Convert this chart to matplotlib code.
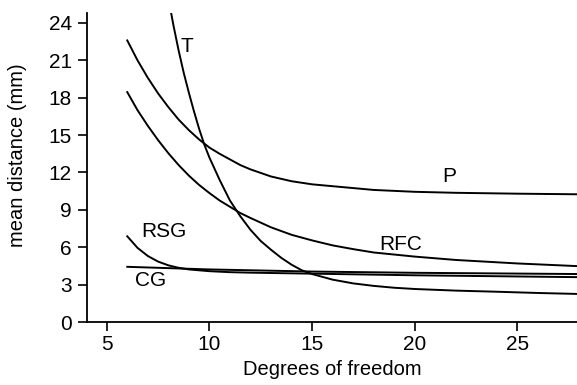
import numpy as np
import matplotlib
matplotlib.use("Agg")
import matplotlib.pyplot as plt

plt.rcParams["font.family"] = ["Liberation Sans", "DejaVu Sans"]
plt.rcParams["font.size"] = 14

# curves (x = degrees of freedom, y = mean distance in mm)
t_x = [8, 8.25, 8.5, 8.75, 9, 9.25, 9.5, 9.75, 10, 10.5, 11, 11.5, 12, 12.5, 13, 13.5, 14,
       14.5, 15, 16, 17, 18, 19, 20, 22, 24, 26, 28]
t_y = [26.0, 23.8, 21.8, 20.0, 18.4, 16.9, 15.5, 14.25, 13.2, 11.4, 9.75, 8.5, 7.4, 6.5, 5.8,
       5.15, 4.6, 4.15, 3.85, 3.4, 3.1, 2.9, 2.75, 2.65, 2.52, 2.43, 2.33, 2.25]

p_x = [6, 6.5, 7, 7.5, 8, 8.5, 9, 9.5, 10, 10.5, 11, 11.5, 12, 13, 14, 15, 16, 17, 18, 20, 22, 25, 28]
p_y = [22.6, 21.0, 19.6, 18.35, 17.25, 16.25, 15.4, 14.65, 14.0, 13.5, 13.05, 12.6, 12.25,
       11.68, 11.3, 11.05, 10.9, 10.75, 10.6, 10.45, 10.37, 10.3, 10.25]

rfc_x = [6, 6.5, 7, 7.5, 8, 8.5, 9, 9.5, 10, 10.5, 11, 11.5, 12, 13, 14, 15, 16, 17, 18, 20, 22, 25, 28]
rfc_y = [18.45, 17.0, 15.75, 14.6, 13.55, 12.6, 11.75, 11.0, 10.35, 9.75, 9.25, 8.75, 8.35,
         7.6, 7.0, 6.55, 6.15, 5.85, 5.58, 5.25, 4.98, 4.7, 4.48]

rsg_x = [6, 6.5, 7, 7.5, 8, 8.5, 9, 10, 11, 12, 15, 20, 28]
rsg_y = [6.88, 5.95, 5.3, 4.85, 4.55, 4.35, 4.22, 4.08, 4.0, 3.96, 3.88, 3.75, 3.6]

cg_x = [6, 10, 15, 20, 28]
cg_y = [4.43, 4.22, 4.05, 3.95, 3.85]

labels = {"T": (8.92, 22.1), "P": (21.66, 11.7), "RFC": (19.33, 6.22),
          "RSG": (7.8, 7.3), "CG": (7.13, 3.3)}

fig = plt.figure(figsize=(5.77, 3.85), dpi=100)
ax = fig.add_axes([0.1508, 0.1636, 0.8492, 0.8026])

for x, y in [(t_x, t_y), (p_x, p_y), (rfc_x, rfc_y), (rsg_x, rsg_y), (cg_x, cg_y)]:
    ax.plot(x, y, color="black", lw=1.4)

for name, (lx, ly) in labels.items():
    ax.text(lx, ly, name, ha="center", va="center", fontsize=15)

ax.set_xlim(4.04, 27.9)
ax.set_ylim(0, 24.8)
ax.set_xticks([5, 10, 15, 20, 25])
ax.set_yticks(np.arange(0, 25, 3))
ax.spines["top"].set_visible(False)
ax.spines["right"].set_visible(False)
ax.spines["left"].set_linewidth(1.3)
ax.spines["bottom"].set_linewidth(1.3)
ax.tick_params(direction="out", length=6.5, width=1.2, labelsize=15)
ax.tick_params(axis="x", pad=3)
ax.tick_params(axis="y", pad=4.5)
ax.set_xlabel("Degrees of freedom", fontsize=14.5, labelpad=4)
ax.set_ylabel("mean distance (mm)", fontsize=14.5)
ax.yaxis.set_label_coords(-0.122, 0.54)

fig.savefig("out.png", dpi=100)
